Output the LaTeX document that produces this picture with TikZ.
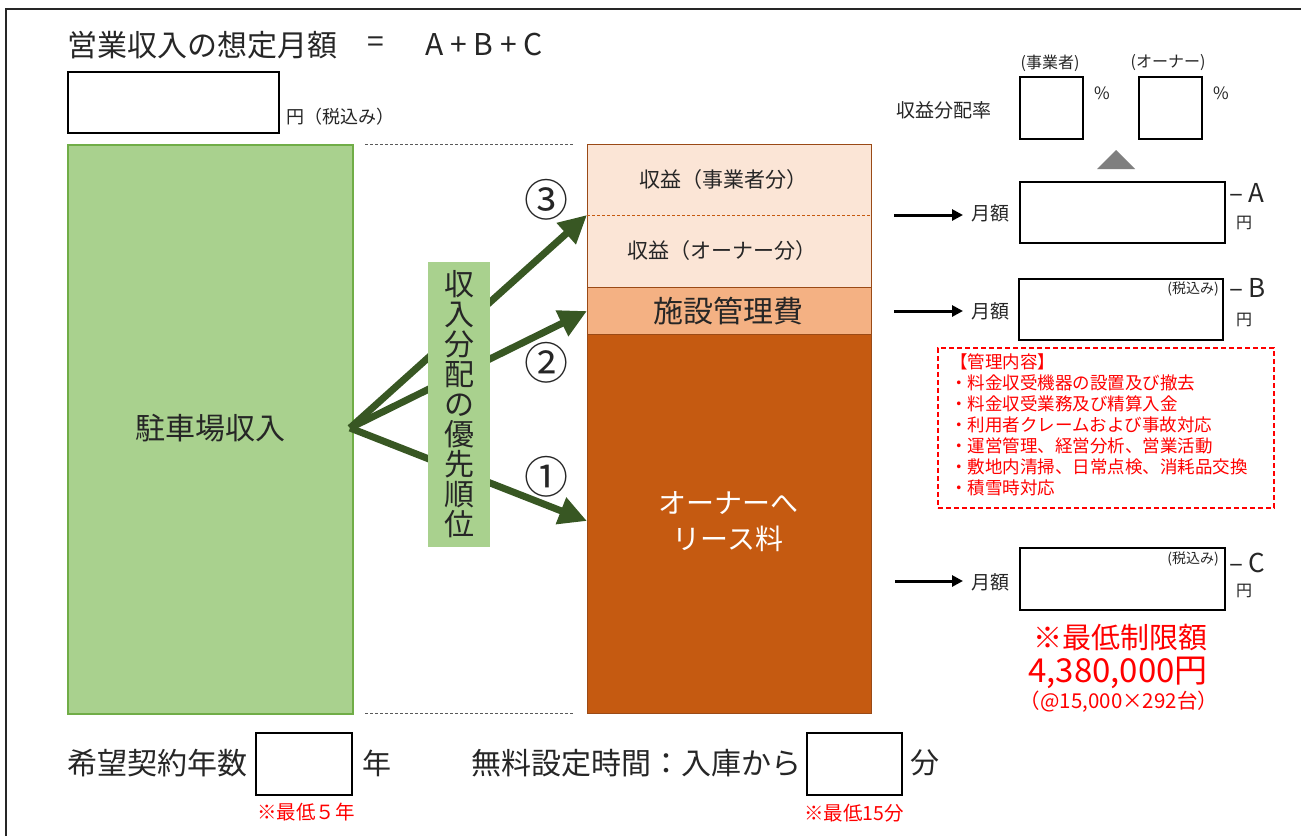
\documentclass[tikz,border=0pt]{standalone}
\usepackage{fontspec}
\setmainfont{Noto Sans CJK JP}
\usetikzlibrary{arrows.meta}
\definecolor{grnfill}{HTML}{A9D18E}
\definecolor{grnline}{HTML}{70AD47}
\definecolor{arrgrn}{HTML}{385723}
\definecolor{orlight}{HTML}{FBE5D6}
\definecolor{ormid}{HTML}{F4B183}
\definecolor{ordark}{HTML}{C55A11}
\definecolor{orline}{HTML}{9A4A16}
\definecolor{txt}{HTML}{262626}
\definecolor{redtxt}{HTML}{FF0000}
\definecolor{trigray}{HTML}{7F7F7F}
\definecolor{dashgray}{HTML}{595959}
\newcommand{\fsz}[1]{\fontsize{#1}{#1}\selectfont}
\begin{document}
\begin{tikzpicture}[x=1pt,y=-1pt,
  tnode/.style={inner sep=0pt, text=txt},
  rnode/.style={inner sep=0pt, text=redtxt},
  inbox/.style={draw=black, line width=1.6pt, inner sep=0pt, anchor=north west},
  orbox/.style={draw=orline, line width=1.4pt, inner sep=0pt, anchor=north west, minimum width=284pt},
  bigarrow/.style={draw=arrgrn, line width=7pt, -{Triangle[length=28pt,width=27pt]}},
  smallarrow/.style={draw=black, line width=3pt, -{Triangle[length=11pt,width=11pt]}},
  guide/.style={draw=dashgray, line width=0.8pt, dash pattern=on 3pt off 2pt}]
\useasboundingbox (0,0) rectangle (1301,836);
\fill[white] (0,0) rectangle (1301,836);
% frame
\coordinate (fbl) at (6,836);
\coordinate (ftl) at (6,9);
\coordinate (ftr) at (1301,9);
\draw[line width=2pt, draw=txt] (fbl) -- (ftl) -- (ftr);

% title
\node[tnode, anchor=west, font=\fsz{30}] (title) at (67,45) {営業収入の想定月額};
\node[tnode, font=\fsz{30}] (eq) at (376,45) {=};
\node[tnode, font=\fsz{30}] (abc) at (484,45) {A + B + C};
\node[inbox, minimum width=211pt, minimum height=61pt] (totbox) at (67,71) {};
\node[tnode, anchor=west, font=\fsz{18}] (totyen) at (286,117) {円（税込み）};

% left green block
\node[draw=grnline, fill=grnfill, line width=1.5pt, inner sep=0pt, anchor=north west,
      minimum width=285pt, minimum height=569pt] (income) at (67,144) {};
\node[tnode, font=\fsz{30}] (incometxt) at (210,428) {駐車場収入};

% guide dashed lines
\coordinate (g1a) at (365,144); \coordinate (g1b) at (573,144);
\coordinate (g2a) at (365,713); \coordinate (g2b) at (573,713);
\draw[guide] (g1a) -- (g1b);
\draw[guide] (g2a) -- (g2b);

% orange stack
\node[orbox, fill=orlight, minimum height=143pt] (orTop) at (587,144) {};
\node[orbox, fill=ormid, minimum height=47pt] (orMid) at (587,287) {};
\node[orbox, fill=ordark, minimum height=379pt] (orBot) at (587,334) {};
\coordinate (divL) at (587,215); \coordinate (divR) at (871,215);
\draw[draw=ordark, line width=0.8pt, dash pattern=on 3pt off 2pt] (divL) -- (divR);
\node[tnode, font=\fsz{21}] (prof1) at (723,180) {収益（事業者分）};
\node[tnode, font=\fsz{21}] (prof2) at (722,251) {収益（オーナー分）};
\node[tnode, font=\fsz{30}] (mgmt) at (728,311) {施設管理費};
\node[inner sep=0pt, text=white, font=\fontsize{28}{36}\selectfont, align=center] (lease) at (728,522) {オーナーへ\\リース料};

% big arrows
\coordinate (src) at (350,428);
\coordinate (t3) at (587,215);
\coordinate (t2) at (587,311);
\coordinate (t1) at (587,521);
\draw[bigarrow] (src) -- (t3);
\draw[bigarrow] (src) -- (t2);
\draw[bigarrow] (src) -- (t1);

% vertical label
\node[fill=grnfill, inner sep=0pt, minimum width=62pt, minimum height=285pt] (prio) at (459,404.5) {};
\node[inner sep=0pt, text=txt, font=\fontsize{30}{30}\selectfont, align=center] (priotxt) at (459,404)
  {収\\入\\分\\配\\の\\優\\先\\順\\位};

% circled numbers
\node[tnode, font=\fsz{44}] (n3) at (546,200) {③};
\node[tnode, font=\fsz{44}] (n2) at (546,363) {②};
\node[tnode, font=\fsz{44}] (n1) at (546,477) {①};

% distribution rate
\node[tnode, font=\fsz{19}] (ratelbl) at (944,110) {収益分配率};
\node[tnode, font=\fsz{16}] (opl) at (1050,63) {(事業者)};
\node[tnode, font=\fsz{16}] (own) at (1168,63) {(オーナー)};
\node[inbox, minimum width=63pt, minimum height=62pt] (rbox1) at (1019,76) {};
\node[inbox, minimum width=63pt, minimum height=62pt] (rbox2) at (1138,76) {};
\node[tnode, font=\fsz{17}] (pc1) at (1102,93) {\%};
\node[tnode, font=\fsz{17}] (pc2) at (1221,93) {\%};
\coordinate (triL) at (1097,169); \coordinate (triT) at (1116,150); \coordinate (triR) at (1135,169);
\fill[trigray] (triL) -- (triT) -- (triR) -- cycle;

% A
\node[inbox, minimum width=205pt, minimum height=61pt] (boxA) at (1019,181) {};
\coordinate (aA0) at (894,215); \coordinate (aA1) at (963,215);
\draw[smallarrow] (aA0) -- (aA1);
\node[tnode, font=\fsz{19}] (mA) at (990,213) {月額};
\node[tnode, anchor=west, font=\fsz{26}] (lA) at (1229,193) {– A};
\node[tnode, font=\fsz{16}] (yA) at (1244,223) {円};

% B
\node[inbox, minimum width=204pt, minimum height=61pt] (boxB) at (1018,278) {};
\node[tnode, anchor=east, font=\fsz{14}] (taxB) at (1219,289) {(税込み)};
\coordinate (aB0) at (894,311); \coordinate (aB1) at (963,311);
\draw[smallarrow] (aB0) -- (aB1);
\node[tnode, font=\fsz{19}] (mB) at (990,311) {月額};
\node[tnode, anchor=west, font=\fsz{26}] (lB) at (1229,288) {– B};
\node[tnode, font=\fsz{16}] (yB) at (1244,320) {円};

% management contents
\node[draw=redtxt, line width=1.5pt, dash pattern=on 5pt off 3pt, inner sep=0pt, anchor=north west,
      minimum width=336pt, minimum height=160pt] (mbox) at (937,347) {};
\node[rnode, anchor=west, font=\fsz{17.5}] (m0) at (950,362) {【管理内容】};
\node[rnode, anchor=west, font=\fsz{17.5}] (m1) at (950,383) {・料金収受機器の設置及び撤去};
\node[rnode, anchor=west, font=\fsz{17.5}] (m2) at (950,404) {・料金収受業務及び精算入金};
\node[rnode, anchor=west, font=\fsz{17.5}] (m3) at (950,425) {・利用者クレームおよび事故対応};
\node[rnode, anchor=west, font=\fsz{17.5}] (m4) at (950,446) {・運営管理、経営分析、営業活動};
\node[rnode, anchor=west, font=\fsz{17.5}] (m5) at (950,467) {・敷地内清掃、日常点検、消耗品交換};
\node[rnode, anchor=west, font=\fsz{17.5}] (m6) at (950,488) {・積雪時対応};

% C
\node[inbox, minimum width=205pt, minimum height=62pt] (boxC) at (1019,547) {};
\node[tnode, anchor=east, font=\fsz{14}] (taxC) at (1219,559) {(税込み)};
\coordinate (aC0) at (895,581); \coordinate (aC1) at (963,581);
\draw[smallarrow] (aC0) -- (aC1);
\node[tnode, font=\fsz{19}] (mC) at (990,582) {月額};
\node[tnode, anchor=west, font=\fsz{26}] (lC) at (1229,563) {– C};
\node[tnode, font=\fsz{16}] (yC) at (1244,591) {円};

% minimum amount
\node[rnode, font=\fsz{29}] (minlbl) at (1120,638) {※最低制限額};
\node[rnode, font=\fsz{33}] (minval) at (1118,673) {4,380,000円};
\node[rnode, font=\fsz{20.5}] (mincalc) at (1119,702) {（@15,000×292台）};

% bottom row
\node[tnode, anchor=west, font=\fsz{30}] (years) at (67,763) {希望契約年数};
\node[inbox, minimum width=96pt, minimum height=62pt] (ybox) at (255,732) {};
\node[tnode, font=\fsz{29}] (yunit) at (377,763) {年};
\node[rnode, font=\fsz{19.5}] (ymin) at (306,812) {※最低５年};
\node[tnode, anchor=west, font=\fsz{30}] (free) at (471,763) {無料設定時間：入庫から};
\node[inbox, minimum width=95pt, minimum height=62pt] (fbox) at (806,732) {};
\node[tnode, font=\fsz{29}] (funit) at (925,763) {分};
\node[rnode, font=\fsz{19.5}] (fmin) at (854,813) {※最低15分};
\end{tikzpicture}
\end{document}
